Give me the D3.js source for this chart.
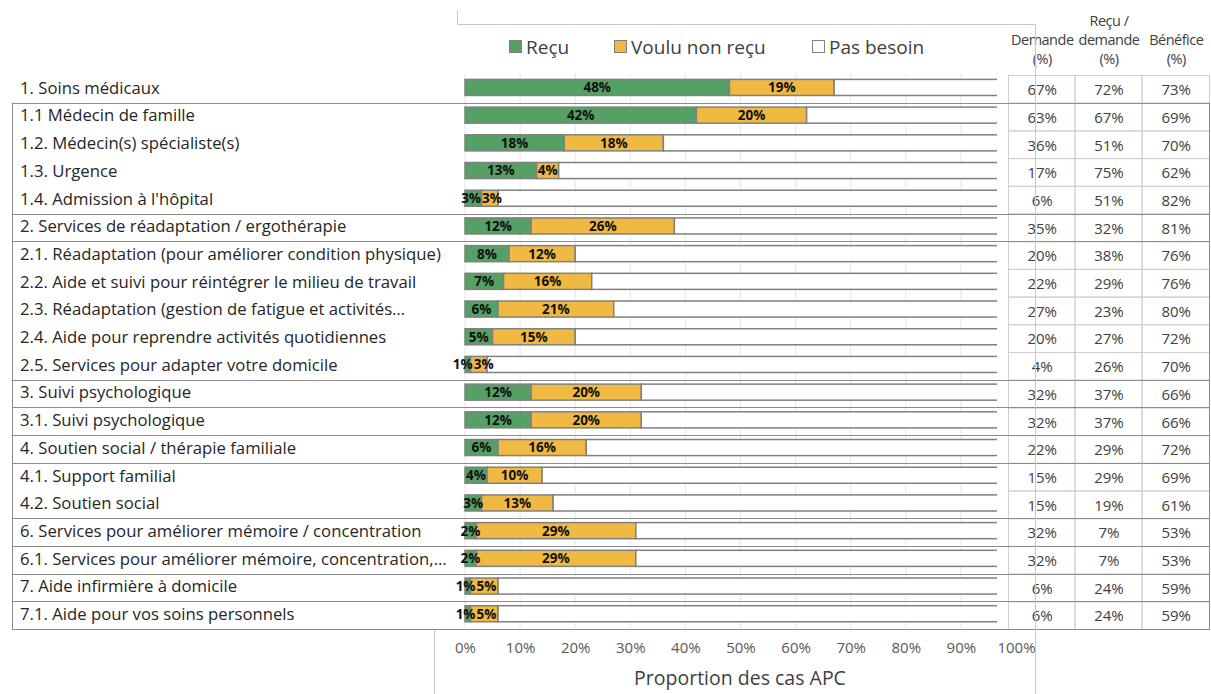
<!DOCTYPE html>
<html>
<head>
<meta charset="utf-8">
<script src="https://cdn.jsdelivr.net/npm/d3@7"></script>
<style>
  html, body { margin: 0; padding: 0; background: #ffffff; }
  svg { display: block; font-family: "Open Sans", "Noto Sans", sans-serif; }
</style>
</head>
<body>
<svg id="chart" width="1211" height="694"></svg>
<script>
// Services and their stacked shares (% of cases)
const categories = [
  "1. Soins médicaux",
  "1.1 Médecin de famille",
  "1.2. Médecin(s) spécialiste(s)",
  "1.3. Urgence",
  "1.4. Admission à l'hôpital",
  "2. Services de réadaptation / ergothérapie",
  "2.1. Réadaptation (pour améliorer condition physique)",
  "2.2. Aide et suivi pour réintégrer le milieu de travail",
  "2.3. Réadaptation (gestion de fatigue et activités…",
  "2.4. Aide pour reprendre activités quotidiennes",
  "2.5. Services pour adapter votre domicile",
  "3. Suivi psychologique",
  "3.1. Suivi psychologique",
  "4. Soutien social / thérapie familiale",
  "4.1. Support familial",
  "4.2. Soutien social",
  "6. Services pour améliorer mémoire / concentration",
  "6.1. Services pour améliorer mémoire, concentration,…",
  "7. Aide infirmière à domicile",
  "7.1. Aide pour vos soins personnels"
];
const recu         = [48, 42, 18, 13, 3, 12, 8, 7, 6, 5, 1, 12, 12, 6, 4, 3, 2, 2, 1, 1];
const vouluNonRecu = [19, 20, 18, 4, 3, 26, 12, 16, 21, 15, 3, 20, 20, 16, 10, 13, 29, 29, 5, 5];
const pasBesoin    = recu.map((r, i) => 100 - r - vouluNonRecu[i]);

// Side table columns
const demande     = [67, 63, 36, 17, 6, 35, 20, 22, 27, 20, 4, 32, 32, 22, 15, 15, 32, 32, 6, 6];
const recuDemande = [72, 67, 51, 75, 51, 32, 38, 29, 23, 27, 26, 37, 37, 29, 29, 19, 7, 7, 24, 24];
const benefice    = [73, 69, 70, 62, 82, 81, 76, 76, 80, 72, 70, 66, 66, 72, 69, 61, 53, 53, 59, 59];

// Row index after which a group separator is drawn
const groupBreaks = [1, 5, 6, 11, 12, 13, 14, 16, 17, 18, 19, 20];

const seriesNames = ["Reçu", "Voulu non reçu", "Pas besoin"];
const seriesColors = ["#55a065", "#f0b942", "#ffffff"];
const xTicks = [0, 10, 20, 30, 40, 50, 60, 70, 80, 90, 100];
const tableHeaders = [["Demande", "(%)"], ["Reçu /", "demande", "(%)"], ["Bénéfice", "(%)"]];

const svg = d3.select("#chart");

const x = d3.scaleLinear().domain([0, 100]).range([465, 1016]);
const rowStep = 27.7;
const y = d3.scaleBand().domain(d3.range(categories.length))
  .range([73.6, 73.6 + rowStep * categories.length]).paddingInner(0.42).paddingOuter(0.21);
const yRow = d3.scaleBand().domain(d3.range(categories.length))
  .range([75, 75 + rowStep * categories.length]);

// Vertical gridlines
svg.append("g").selectAll("line").data(xTicks).join("line")
  .attr("x1", d => x(d)).attr("x2", d => x(d))
  .attr("y1", 73).attr("y2", 630)
  .attr("stroke", "#e6e6e6").attr("stroke-width", 1);

// Stacked bars
const stackData = categories.map((c, i) => ({ i, recu: recu[i], voulu: vouluNonRecu[i], pas: pasBesoin[i] }));
const stack = d3.stack().keys(["recu", "voulu", "pas"]);
const layers = stack(stackData);

const barG = svg.append("g");
layers.forEach((layer, k) => {
  barG.append("g").selectAll("rect").data(layer).join("rect")
    .attr("x", d => x(d[0]))
    .attr("y", d => y(d.data.i))
    .attr("width", d => x(d[1]) - x(d[0]))
    .attr("height", y.bandwidth())
    .attr("fill", seriesColors[k])
    .attr("stroke", "#808080")
    .attr("stroke-width", 1.5);
});

// Value labels on the first two segments
const valueLabels = layers.slice(0, 2).map(layer =>
  barG.append("g").selectAll("text").data(layer).join("text")
    .attr("x", d => (x(d[0]) + x(d[1])) / 2)
    .attr("y", d => y(d.data.i) + y.bandwidth() / 2)
    .attr("dy", "0.36em")
    .attr("text-anchor", "middle")
    .attr("font-size", 13.5)
    .attr("font-weight", 700)
    .attr("fill", "#111111")
    .text(d => (d[1] - d[0]) + "%")
);
// push apart labels of narrow segments so they sit side by side
const greenNodes = valueLabels[0].nodes();
const yellowNodes = valueLabels[1].nodes();
greenNodes.forEach((g, i) => {
  const yl = yellowNodes[i];
  const gx = +g.getAttribute("x"), yx = +yl.getAttribute("x");
  const gw = g.getComputedTextLength(), yw = yl.getComputedTextLength();
  const overlap = (gx + gw / 2) - (yx - yw / 2) + 1;
  if (overlap > 0) {
    g.setAttribute("x", gx - overlap / 2);
    yl.setAttribute("x", yx + overlap / 2);
  }
});

// Left category labels
const labelG = svg.append("g");
const labels = labelG.selectAll("text").data(categories).join("text")
  .attr("x", 20)
  .attr("y", (d, i) => yRow(i) + rowStep / 2 - 1)
  .attr("dy", "0.35em")
  .attr("font-size", 16)
  .attr("fill", "#262626")
  .text(d => d);
// size labels so the longest one fills the label column
const widest = d3.max(labels.nodes(), n => n.getComputedTextLength());
labels.attr("font-size", 16 * 427 / widest);

// Left border of the label column
svg.append("line")
  .attr("x1", 12.5).attr("x2", 12.5)
  .attr("y1", yRow(1)).attr("y2", yRow(19) + rowStep)
  .attr("stroke", "#8c8c8c");

// Table background covering the bar tails
const tableX = [1008, 1074.5, 1141.5, 1209];
svg.append("rect")
  .attr("x", 997).attr("y", 70).attr("width", 214).attr("height", 564)
  .attr("fill", "#ffffff");

// Table cells
const cols = [demande, recuDemande, benefice];
const tableG = svg.append("g");
cols.forEach((col, c) => {
  tableG.append("g").selectAll("rect").data(col).join("rect")
    .attr("x", tableX[c] + 0.5)
    .attr("y", (d, i) => yRow(i) + 0.5)
    .attr("width", tableX[c + 1] - tableX[c])
    .attr("height", rowStep)
    .attr("fill", "none")
    .attr("stroke", "#cfcfcf");
  tableG.append("g").selectAll("text").data(col).join("text")
    .attr("x", (tableX[c] + tableX[c + 1]) / 2 + 1)
    .attr("y", (d, i) => yRow(i) + rowStep / 2 + 1)
    .attr("dy", "0.35em")
    .attr("text-anchor", "middle")
    .attr("font-size", 15)
    .attr("fill", "#404040")
    .text(d => d + "%");
});

// Group separators
svg.append("g").selectAll("line").data(groupBreaks).join("line")
  .attr("x1", 12).attr("x2", 1210)
  .attr("y1", d => Math.round(yRow(0) + d * rowStep) + 0.5)
  .attr("y2", d => Math.round(yRow(0) + d * rowStep) + 0.5)
  .attr("stroke", "#8c8c8c").attr("stroke-width", 1);

// Right border of grouped table blocks
svg.append("line")
  .attr("x1", 1209.5).attr("x2", 1209.5)
  .attr("y1", yRow(1)).attr("y2", yRow(19) + rowStep)
  .attr("stroke", "#8c8c8c");

// Table headers
tableHeaders.forEach((lines, c) => {
  const cx = (tableX[c] + tableX[c + 1]) / 2 + 1;
  const n = lines.length;
  lines.forEach((t, j) => {
    svg.append("text")
      .attr("x", cx)
      .attr("y", 64 - (n - 1 - j) * 19)
      .attr("text-anchor", "middle")
      .attr("font-size", 14.5)
      .attr("letter-spacing", -0.5)
      .attr("fill", "#404040")
      .text(t);
  });
});

// Legend
const legendX = [509, 614, 812];
const legend = svg.append("g");
seriesNames.forEach((name, k) => {
  legend.append("rect")
    .attr("x", legendX[k] + 0.5).attr("y", 40.5)
    .attr("width", 12).attr("height", 12)
    .attr("fill", seriesColors[k])
    .attr("stroke", "#808080");
  legend.append("text")
    .attr("x", legendX[k] + 17).attr("y", 47)
    .attr("dy", "0.35em")
    .attr("font-size", 19)
    .attr("fill", "#404040")
    .text(name);
});

// X axis tick labels and title
const xAxis = d3.axisBottom(x).tickValues(xTicks).tickFormat(d => d + "%").tickSize(0).tickPadding(0);
const axisG = svg.append("g").attr("transform", "translate(0,642)").call(xAxis);
axisG.select(".domain").remove();
axisG.selectAll("text")
  .attr("font-size", 15)
  .attr("font-family", "\"Open Sans\", \"Noto Sans\", sans-serif")
  .attr("fill", "#595959");

svg.append("text")
  .attr("x", 740).attr("y", 685)
  .attr("text-anchor", "middle")
  .attr("font-size", 19.5)
  .attr("fill", "#404040")
  .text("Proportion des cas APC");

// Frame fragments of the surrounding panels
const frame = svg.append("g").attr("stroke", "#c8c8c8").attr("fill", "none");
frame.append("path").attr("d", "M457.5,10 V24.5 H1035.5 V694");
frame.append("path").attr("d", "M434.5,630 V694");
</script>
</body>
</html>
